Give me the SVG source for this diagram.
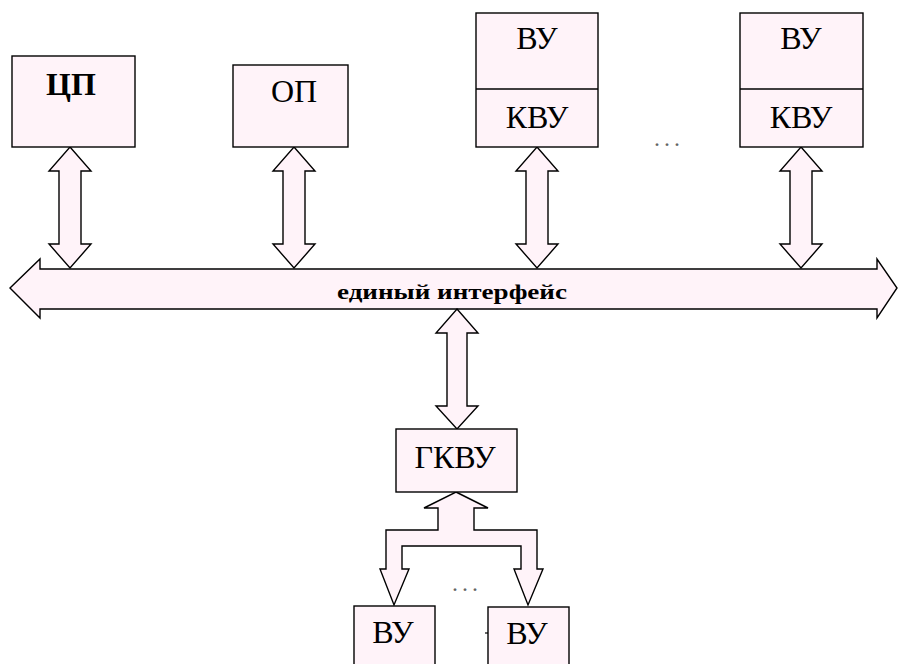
<svg xmlns="http://www.w3.org/2000/svg" width="898" height="664" viewBox="0 0 898 664">
  <style>
    .box { fill: #FFF3F9; stroke: #000; stroke-width: 1.4; }
    .arrow { fill: #FFF3F9; stroke: #000; stroke-width: 1.4; stroke-linejoin: miter; }
    text.lbl { font-family: 'Liberation Serif', 'DejaVu Serif', serif; font-size: 32px; fill: #000; text-anchor: middle; }
    text.bus-lbl { font-family: 'Liberation Serif', 'DejaVu Serif', serif; font-size: 21px; font-weight: bold; fill: #000; }
    text.dots { font-family: 'Liberation Serif', serif; font-size: 24px; fill: #666; }
  </style>
  <defs>
    <!-- vertical double-headed block arrow, 121 px long, tip at origin -->
    <path id="dblArrow" class="arrow" d="M0,0 L21,24 L11,24 L11,97 L21,97 L0,121 L-21,97 L-11,97 L-11,24 L-21,24 Z"/>
  </defs>

  <!-- connectors -->
  <g id="connectors">
    <!-- shared bus -->
    <path id="bus" class="arrow" d="M10,288 L40,259 L40,269 L877,269 L877,259 L897,288 L877,318 L877,309 L40,309 L40,318 Z"/>
    <text class="bus-lbl" x="337" y="299" textLength="230" lengthAdjust="spacingAndGlyphs">единый интерфейс</text>
    <use href="#dblArrow" x="70" y="147"/>
    <use href="#dblArrow" x="294" y="147"/>
    <use href="#dblArrow" x="537" y="147"/>
    <use href="#dblArrow" x="801" y="147"/>
    <path class="arrow" d="M457,309 L478,333 L467,333 L467,406 L478,406 L457,429 L436,406 L447,406 L447,333 L436,333 Z"/>
    <!-- forked arrow from the group controller -->
    <path class="arrow" d="M456,492 L488,508 L474,508 L474,530 L537,530 L537,569 L543,569 L528,605 L514,569 L521,569 L521,546 L402,546 L402,569 L409,569 L394,605 L380,569 L386,569 L386,530 L438,530 L438,508 L424,508 Z"/>
  </g>

  <g id="cpu">
    <rect class="box" x="12" y="56" width="123" height="91"/>
    <text class="lbl" x="71" y="95" font-weight="bold">ЦП</text>
  </g>

  <g id="mem">
    <rect class="box" x="233" y="65" width="115" height="82"/>
    <text class="lbl" x="294" y="102">ОП</text>
  </g>

  <g id="dev1">
    <rect class="box" x="476" y="13" width="122" height="134"/>
    <line x1="476" y1="89" x2="598" y2="89" stroke="#000" stroke-width="1.4"/>
    <text class="lbl" x="537" y="49">ВУ</text>
    <text class="lbl" x="537" y="128">КВУ</text>
  </g>

  <text class="dots" x="654" y="146" textLength="26" lengthAdjust="spacing">...</text>

  <g id="dev2">
    <rect class="box" x="740" y="13" width="123" height="134"/>
    <line x1="740" y1="89" x2="863" y2="89" stroke="#000" stroke-width="1.4"/>
    <text class="lbl" x="801" y="49">ВУ</text>
    <text class="lbl" x="801" y="128">КВУ</text>
  </g>

  <g id="gkvu">
    <rect class="box" x="396" y="429" width="121" height="63"/>
    <text class="lbl" x="455" y="468">ГКВУ</text>
  </g>

  <text class="dots" x="452" y="591" textLength="26" lengthAdjust="spacing">...</text>

  <g id="dev3">
    <rect class="box" x="354" y="606" width="81" height="70"/>
    <text class="lbl" x="393" y="643">ВУ</text>
  </g>

  <g id="dev4">
    <rect class="box" x="488" y="607" width="81" height="70"/>
    <line x1="485" y1="633" x2="488" y2="633" stroke="#000" stroke-width="1.2"/>
    <text class="lbl" x="527" y="644">ВУ</text>
  </g>
</svg>
